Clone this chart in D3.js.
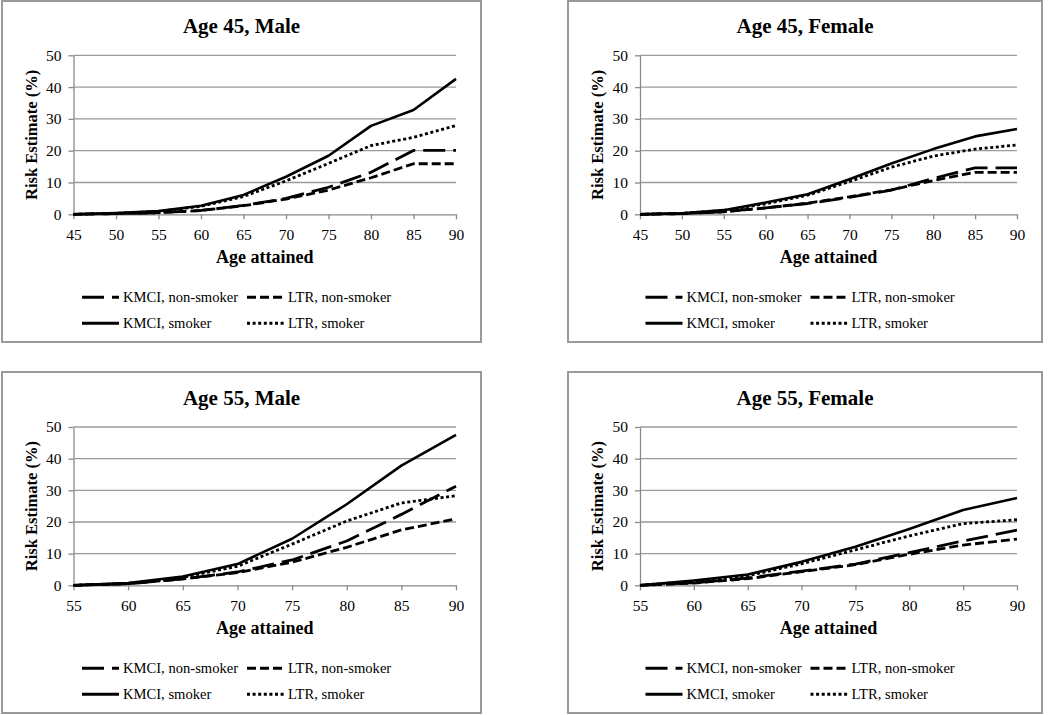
<!DOCTYPE html>
<html>
<head>
<meta charset="utf-8">
<script src="https://cdn.jsdelivr.net/npm/d3@7"></script>
<style>
  html, body { margin: 0; padding: 0; background: #fff; }
  svg { display: block; }
  svg text { font-family: "Liberation Serif", "DejaVu Serif", "Times New Roman", Times, serif !important; fill: #000; }
</style>
</head>
<body>
<svg id="chart" width="1050" height="715"></svg>
<script>
// ---------- data ----------
const panelTitles = ["Age 45, Male", "Age 45, Female", "Age 55, Male", "Age 55, Female"];
const seriesNames = ["KMCI, non-smoker", "LTR, non-smoker", "KMCI, smoker", "LTR, smoker"];
const yTicks = [0, 10, 20, 30, 40, 50];
const xTicks45 = [45, 50, 55, 60, 65, 70, 75, 80, 85, 90];
const xTicks55 = [55, 60, 65, 70, 75, 80, 85, 90];
const xAxisTitle = "Age attained";
const yAxisTitle = "Risk Estimate (%)";

// Age 45, Male
const m45_kmciNon = [0, 0.2, 0.5, 1.2, 2.8, 5.0, 8.5, 13.2, 20.1, 20.1];
const m45_ltrNon  = [0, 0.2, 0.5, 1.2, 2.7, 4.8, 7.6, 11.5, 15.9, 15.9];
const m45_kmciSm  = [0, 0.4, 1.0, 2.7, 6.1, 11.8, 18.4, 27.8, 32.8, 42.6];
const m45_ltrSm   = [0, 0.3, 0.9, 2.5, 5.6, 10.5, 16.0, 21.6, 24.2, 27.9];
// Age 45, Female
const f45_kmciNon = [0, 0.2, 0.8, 2.0, 3.4, 5.3, 7.6, 11.3, 14.6, 14.6];
const f45_ltrNon  = [0, 0.2, 0.8, 2.0, 3.5, 5.5, 7.7, 10.6, 13.2, 13.2];
const f45_kmciSm  = [0, 0.3, 1.3, 3.7, 6.3, 11.0, 16.0, 20.5, 24.5, 26.8];
const f45_ltrSm   = [0, 0.3, 1.2, 3.3, 6.0, 10.3, 14.8, 18.3, 20.5, 21.8];
// Age 55, Male
const m55_kmciNon = [0, 0.5, 2.0, 4.2, 8.0, 14.0, 22.4, 31.3];
const m55_ltrNon  = [0, 0.5, 2.0, 4.0, 7.3, 12.0, 17.5, 21.0];
const m55_kmciSm  = [0, 0.7, 2.8, 6.7, 14.7, 25.6, 37.8, 47.5];
const m55_ltrSm   = [0, 0.6, 2.5, 6.0, 13.0, 20.3, 26.0, 28.3];
// Age 55, Female
const f55_kmciNon = [0, 0.8, 2.3, 4.5, 6.7, 10.3, 14.0, 17.4];
const f55_ltrNon  = [0, 0.7, 2.1, 4.3, 6.5, 9.8, 12.7, 14.6];
const f55_kmciSm  = [0, 1.5, 3.4, 7.4, 12.2, 17.8, 23.8, 27.6];
const f55_ltrSm   = [0, 1.3, 3.0, 6.8, 11.2, 15.6, 19.5, 20.7];

// ---------- styles ----------
const FONT = "'Liberation Serif', 'DejaVu Serif', 'Times New Roman', serif";
const dashes = ["22,8", "9,4", null, "3,2.6"];
const lineWidths = [2.8, 2.8, 2.6, 2.8];

const svg = d3.select("#chart");

const panels = [
  { title: panelTitles[0], ages: xTicks45, series: [m45_kmciNon, m45_ltrNon, m45_kmciSm, m45_ltrSm],
    box: [2, 1, 481, 342], plot: [73.5, 55.3, 456, 214.3] },
  { title: panelTitles[1], ages: xTicks45, series: [f45_kmciNon, f45_ltrNon, f45_kmciSm, f45_ltrSm],
    box: [568, 1, 1042, 342], plot: [640, 55.3, 1017, 214.3] },
  { title: panelTitles[2], ages: xTicks55, series: [m55_kmciNon, m55_ltrNon, m55_kmciSm, m55_ltrSm],
    box: [2, 372, 481, 713], plot: [73.5, 427, 456, 585.3] },
  { title: panelTitles[3], ages: xTicks55, series: [f55_kmciNon, f55_ltrNon, f55_kmciSm, f55_ltrSm],
    box: [568, 372, 1042, 713], plot: [640, 427, 1017, 585.3] }
];

panels.forEach(p => {
  const [bx0, by0, bx1, by1] = p.box;
  const [px0, py0, px1, py1] = p.plot;
  const g = svg.append("g").attr("font-family", FONT);

  g.append("rect")
    .attr("x", bx0).attr("y", by0)
    .attr("width", bx1 - bx0).attr("height", by1 - by0)
    .attr("fill", "#fff").attr("stroke", "#9a9a9a").attr("stroke-width", 2);

  const x = d3.scaleLinear().domain([p.ages[0], p.ages[p.ages.length - 1]]).range([px0, px1]);
  const y = d3.scaleLinear().domain([0, 50]).range([py1, py0]);

  // gridlines
  g.append("g").selectAll("line").data(yTicks.filter(t => t > 0)).join("line")
    .attr("x1", px0).attr("x2", px1)
    .attr("y1", d => y(d)).attr("y2", d => y(d))
    .attr("stroke", "#9a9a9a").attr("stroke-width", 1.3);

  // y axis
  const yAxis = g.append("g").attr("transform", `translate(${px0},0)`)
    .call(d3.axisLeft(y).tickValues(yTicks).tickSize(5).tickPadding(7).tickSizeOuter(0));
  yAxis.attr("font-family", FONT).attr("font-size", 15.5);
  yAxis.select(".domain").attr("stroke", "#8a8a8a").attr("stroke-width", 1.3);
  yAxis.selectAll(".tick line").attr("stroke", "#8a8a8a").attr("stroke-width", 1.3);
  yAxis.selectAll(".tick text").attr("font-size", 15.5).style("font-family", FONT);

  // x axis
  const xAxis = g.append("g").attr("transform", `translate(0,${py1})`)
    .call(d3.axisBottom(x).tickValues(p.ages).tickSize(5).tickPadding(10).tickSizeOuter(0));
  xAxis.attr("font-family", FONT).attr("font-size", 15.5);
  xAxis.select(".domain").attr("stroke", "#8a8a8a").attr("stroke-width", 1.3);
  xAxis.selectAll(".tick line").attr("stroke", "#8a8a8a").attr("stroke-width", 1.3);
  xAxis.selectAll(".tick text").attr("font-size", 15.5).style("font-family", FONT);

  // lines
  const line = d3.line().x((d, i) => x(p.ages[i])).y(d => y(d));
  p.series.forEach((s, k) => {
    g.append("path").datum(s)
      .attr("d", line)
      .attr("fill", "none")
      .attr("stroke", "#000")
      .attr("stroke-width", lineWidths[k])
      .attr("stroke-linejoin", "round")
      .attr("stroke-dasharray", dashes[k]);
  });

  const cx = (bx0 + bx1) / 2;
  // title
  g.append("text").attr("x", cx).attr("y", py0 - 22)
    .attr("text-anchor", "middle").attr("font-size", 21).attr("font-weight", "bold")
    .style("font-family", FONT)
    .text(p.title);

  // axis titles
  g.append("text").attr("x", (px0 + px1) / 2).attr("y", py1 + 49)
    .attr("text-anchor", "middle").attr("font-size", 18).attr("font-weight", "bold")
    .style("font-family", FONT)
    .text(xAxisTitle);
  g.append("text")
    .attr("transform", `translate(${px0 - 37},${(py0 + py1) / 2}) rotate(-90)`)
    .attr("text-anchor", "middle").attr("font-size", 16.5).attr("font-weight", "bold")
    .style("font-family", FONT)
    .text(yAxisTitle);

  // legend
  const legendPos = [
    [cx - 159.5, py1 + 83], [cx + 5.5, py1 + 83],
    [cx - 159.5, py1 + 109], [cx + 5.5, py1 + 109]
  ];
  seriesNames.forEach((name, k) => {
    const [lx, ly] = legendPos[k];
    g.append("line").attr("x1", lx).attr("x2", lx + 37).attr("y1", ly).attr("y2", ly)
      .attr("stroke", "#000").attr("stroke-width", lineWidths[k] + 0.3)
      .attr("stroke-dasharray", dashes[k]);
    g.append("text").attr("x", lx + 41).attr("y", ly + 5)
      .attr("font-size", 14.6).style("font-family", FONT).text(name);
  });
});
</script>
</body>
</html>
